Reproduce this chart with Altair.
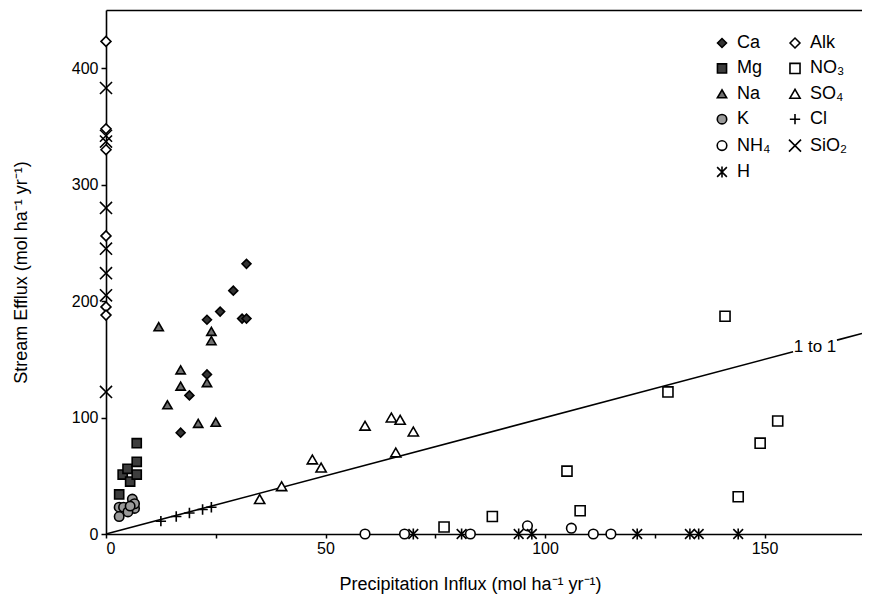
import altair as alt
import pandas as pd

# ---- data ----
# legend is filled column by column: first column, then second column
categories = ["Ca", "Mg", "Na", "K", "NH₄", "H", "Alk", "NO₃", "SO₄", "Cl", "SiO₂"]

ca_x = [17, 19, 23, 23, 26, 29, 31, 32, 32]
ca_y = [87, 119, 137, 184, 191, 209, 185, 185, 232]

mg_x = [3, 3.8, 4.9, 5.5, 7, 7, 7]
mg_y = [34, 51, 56, 45, 51, 62, 78]

na_x = [12, 24, 24, 17, 17, 23, 14, 21, 25]
na_y = [178, 174, 166, 141, 127, 130, 111, 95, 96]

k_x = [6, 3, 4, 6.5, 5, 3, 6.5, 5.5]
k_y = [30, 23, 23, 22, 19, 15, 26, 24]

nh4_x = [59, 68, 83, 96, 106, 111, 115]
nh4_y = [0, 0, 0, 7, 5, 0, 0]

h_x = [70, 81, 94, 97, 121, 133, 135, 144]
h_y = [0, 0, 0, 0, 0, 0, 0, 0]

alk_x = [0, 0, 0, 0, 0, 0]
alk_y = [423, 348, 330, 256, 195, 188]

no3_x = [77, 88, 105, 108, 128, 141, 144, 149, 153]
no3_y = [6, 15, 54, 20, 122, 187, 32, 78, 97]

so4_x = [35, 40, 47, 49, 59, 65, 67, 70, 66]
so4_y = [30, 41, 64, 57, 93, 100, 98, 88, 70]

cl_x = [12.5, 16, 19, 22, 24]
cl_y = [11, 15, 18, 21, 23]

sio2_x = [0, 0, 0, 0, 0, 0, 0, 0]
sio2_y = [383, 342, 337, 280, 245, 224, 205, 122]

# 1 to 1 line (two pieces, gap for the label)
line_seg = ["a", "a", "b", "b"]
line_x = [0, 156.5, 166.5, 172.2]
line_y = [0, 156.5, 166.5, 172.2]
label_x = [161.5]
label_y = [161]
label_txt = ["1 to 1"]

x_ticks = [0, 25, 50, 75, 100, 125, 150]
y_ticks = [0, 100, 200, 300, 400]

series = {
    "Ca": (ca_x, ca_y), "Alk": (alk_x, alk_y), "Mg": (mg_x, mg_y), "NO₃": (no3_x, no3_y),
    "Na": (na_x, na_y), "SO₄": (so4_x, so4_y), "K": (k_x, k_y), "Cl": (cl_x, cl_y),
    "NH₄": (nh4_x, nh4_y), "SiO₂": (sio2_x, sio2_y), "H": (h_x, h_y),
}
rows = []
for name, (xs, ys) in series.items():
    for xv, yv in zip(xs, ys):
        rows.append({"ion": name, "x": xv, "y": yv})
pts = pd.DataFrame(rows)

style = {
    "Ca": ("diamond", "#333333", 80),
    "Mg": ("square", "#3d3d3d", 110),
    "Na": ("triangle-up", "#6f6f6f", 100),
    "K": ("circle", "#9a9a9a", 90),
    "NH₄": ("circle", "white", 90),
    "H": ("M-1,-1L1,1M-1,1L1,-1M0,-1.15L0,1.15", "white", 100),
    "Alk": ("diamond", "white", 80),
    "NO₃": ("square", "white", 100),
    "SO₄": ("triangle-up", "white", 100),
    "Cl": ("M-1,0L1,0M0,-1L0,1", "white", 100),
    "SiO₂": ("M-1.15,-1.15L1.15,1.15M-1.15,1.15L1.15,-1.15", "white", 90),
}
shapes = [style[c][0] for c in categories]
fills = [style[c][1] for c in categories]
sizes = [style[c][2] for c in categories]
strokes = ["black"] * len(categories)

xscale = alt.Scale(domain=[0, 172.2], nice=False, zero=False)
yscale = alt.Scale(domain=[0, 450], nice=False, zero=False)

legend = alt.Legend(title=None, orient="none", legendX=607, legendY=24, columns=2,
                    labelFontSize=18, labelFont="Liberation Sans", labelColor="black",
                    symbolStrokeWidth=1.6,
                    rowPadding=7.4, columnPadding=14, labelOffset=6, padding=0)

points = alt.Chart(pts).mark_point(filled=True, strokeWidth=1.6, opacity=1).encode(
    x=alt.X("x:Q", scale=xscale,
            axis=alt.Axis(values=x_ticks, title="Precipitation Influx  (mol ha⁻¹ yr⁻¹)",
                          labelExpr="datum.value % 50 == 0 ? datum.label : ''",
                          tickSize=4, labelPadding=2, titleX=364, titleY=55,
                          titleBaseline="alphabetic")),
    y=alt.Y("y:Q", scale=yscale,
            axis=alt.Axis(values=y_ticks, title="Stream Efflux (mol ha⁻¹ yr⁻¹)",
                          tickSize=5, labelPadding=3, titleX=-80,
                          titleBaseline="alphabetic")),
    shape=alt.Shape("ion:N", scale=alt.Scale(domain=categories, range=shapes), legend=legend),
    fill=alt.Fill("ion:N", scale=alt.Scale(domain=categories, range=fills), legend=legend),
    stroke=alt.Stroke("ion:N", scale=alt.Scale(domain=categories, range=strokes), legend=legend),
    size=alt.Size("ion:N", scale=alt.Scale(domain=categories, range=sizes), legend=legend),
)

line_df = pd.DataFrame({"seg": line_seg, "x": line_x, "y": line_y})
line = alt.Chart(line_df).mark_line(color="black", strokeWidth=1.6).encode(
    x=alt.X("x:Q", scale=xscale, axis=None),
    y=alt.Y("y:Q", scale=yscale),
    detail="seg:N",
)

lab_df = pd.DataFrame({"x": label_x, "y": label_y, "t": label_txt})
label = alt.Chart(lab_df).mark_text(fontSize=17, font="Liberation Sans", color="black",
                                    align="center", baseline="middle").encode(
    x=alt.X("x:Q", scale=xscale,
            axis=alt.Axis(orient="top", labels=False, ticks=False, title=None, domain=True)),
    y=alt.Y("y:Q", scale=yscale),
    text="t:N",
)

chart = alt.layer(line, label, points).resolve_axis(x="independent").properties(
    width=756, height=524,
    autosize=alt.AutoSizeParams(type="none"),
    padding={"left": 98, "top": 2, "right": 0, "bottom": 60},
).configure_view(stroke=None).configure_axis(
    grid=False, domainColor="black", domainWidth=1.6, tickColor="black", tickWidth=1.5,
    labelColor="black", titleColor="black", labelFont="Liberation Sans",
    titleFont="Liberation Sans", labelFontSize=16, titleFontSize=18,
    titleFontWeight="normal",
)

chart.save("out.html", embed_options={"renderer": "svg", "actions": False})
